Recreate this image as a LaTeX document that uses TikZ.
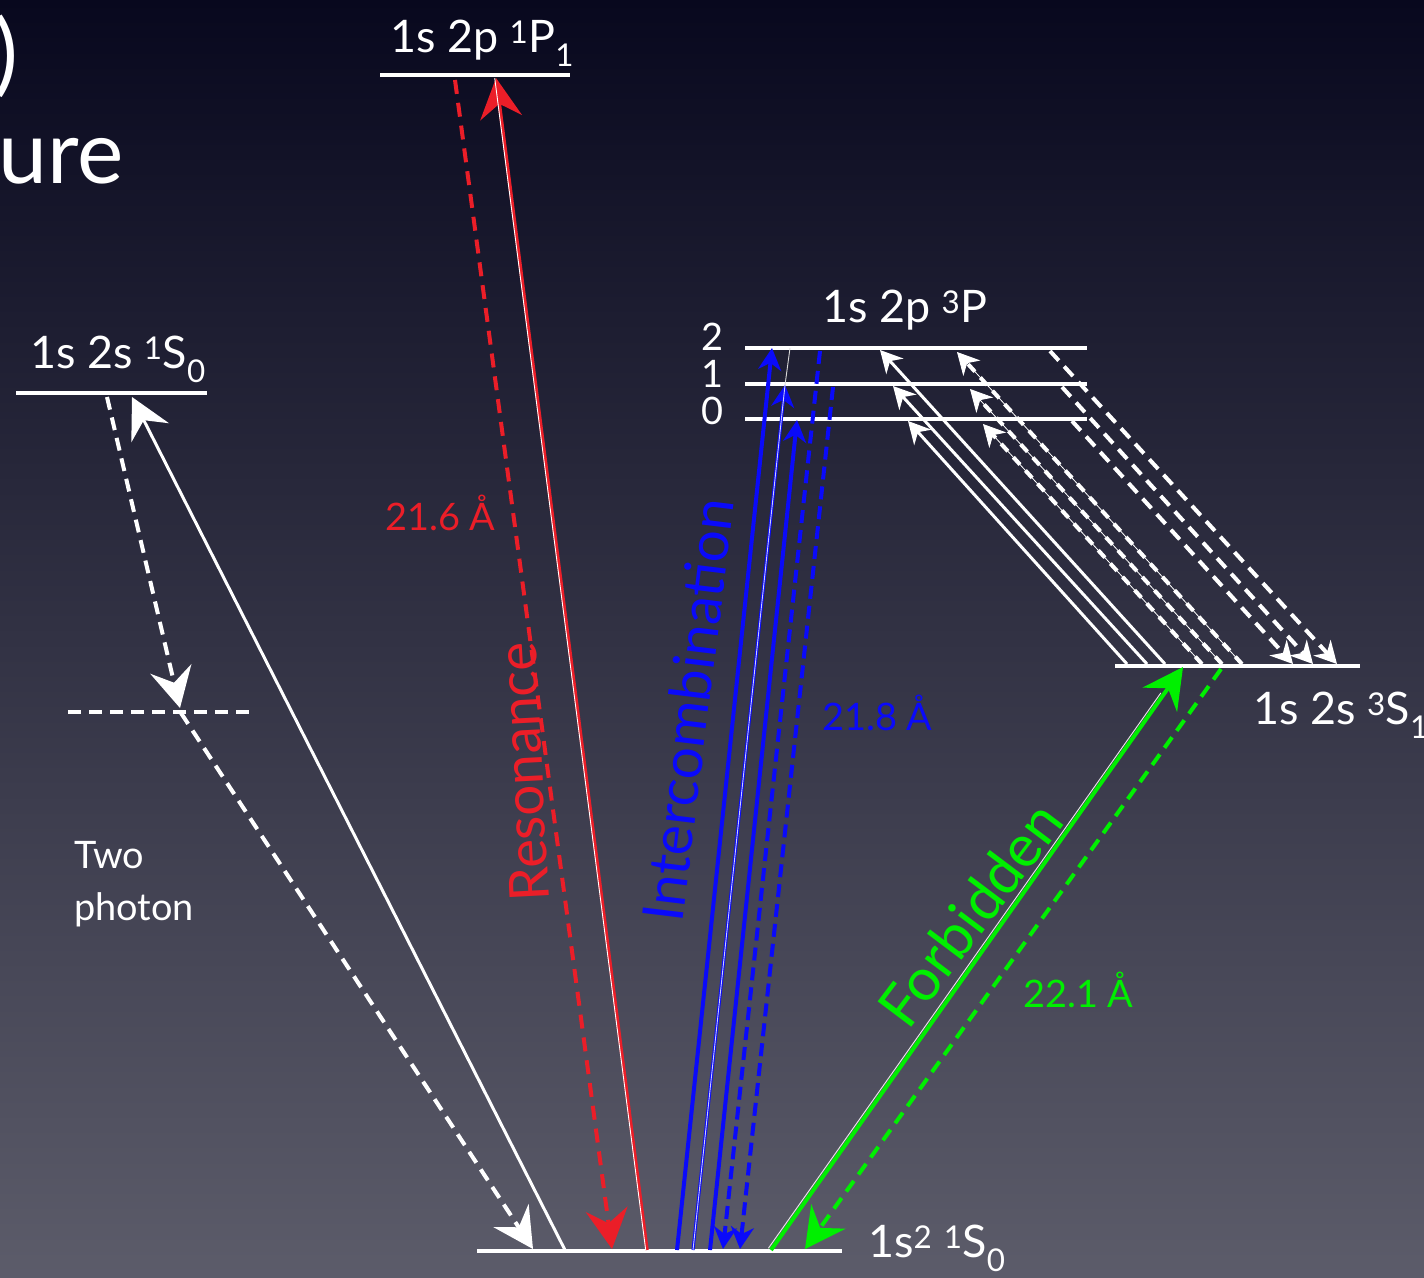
\documentclass[tikz,border=0pt]{standalone}
\usepackage{fontspec}
\setmainfont{Lato}
\usetikzlibrary{arrows.meta}
\definecolor{bgtop}{RGB}{8,8,30}
\definecolor{bgmid}{RGB}{38,38,60}
\definecolor{bgbot}{RGB}{92,92,106}
\definecolor{myred}{RGB}{235,30,40}
\definecolor{myblue}{RGB}{10,10,250}
\definecolor{mygreen}{RGB}{0,240,0}
\newcommand{\upn}[1]{\textsuperscript{#1}}
\newcommand{\dnn}[1]{\textsubscript{#1}}
\begin{document}
\begin{tikzpicture}[x=1bp,y=-1bp,
  level/.style={white,line width=4bp},
  vlevel/.style={white,line width=3.5bp,dash pattern=on 13bp off 8bp},
  lbl/.style={inner sep=0pt,anchor=base west,text=white,font=\fontsize{45}{54}\selectfont},
  jlbl/.style={inner sep=0pt,anchor=base east,text=white,font=\fontsize{38}{46}\selectfont},
  wavel/.style={inner sep=0pt,anchor=base west,font=\fontsize{38}{46}\selectfont},
  bigtip/.style={-{Stealth[length=40bp,width=42bp,inset=14bp]}},
  smalltip/.style={-{Stealth[length=22bp,width=23bp,inset=7bp]}},
  wsolid/.style={white,line width=3bp},
  wdash/.style={white,line width=4bp,dash pattern=on 13bp off 8bp},
  wthin/.style={white,line width=0.8bp},
]
\useasboundingbox (0,0) rectangle (1424,1277);
\shade[top color=bgtop,middle color=bgmid,bottom color=bgbot] (0,0) rectangle (1424,1277);

% title fragments
\node[inner sep=0pt,anchor=base west,text=white,font=\fontsize{90}{100}\selectfont] (t1) at (-6,84) {)};
\node[inner sep=0pt,anchor=base west,text=white,font=\fontsize{88}{100}\selectfont] (t2) at (-2,183) {ure};

% levels
\coordinate (P1a) at (380,75);   \coordinate (P1b) at (570,75);
\coordinate (S0a) at (16,393);   \coordinate (S0b) at (207,393);
\coordinate (Va) at (68,712);    \coordinate (Vb) at (255,712);
\coordinate (Ga) at (477,1251);  \coordinate (Gb) at (842,1251);
\coordinate (T2a) at (745,348);  \coordinate (T2b) at (1087,348);
\coordinate (T1a) at (745,384);  \coordinate (T1b) at (1087,384);
\coordinate (T0a) at (745,419);  \coordinate (T0b) at (1087,419);
\coordinate (S1a) at (1115,666); \coordinate (S1b) at (1360,666);
\draw[level] (P1a) -- (P1b);
\draw[level] (S0a) -- (S0b);
\draw[vlevel] (Va) -- (Vb);
\draw[level] (Ga) -- (Gb);
\draw[level] (T2a) -- (T2b);
\draw[level] (T1a) -- (T1b);
\draw[level] (T0a) -- (T0b);
\draw[level] (S1a) -- (S1b);

% labels
\node[lbl] (lP1) at (390,52) {1s 2p \upn{1}P\dnn{1}};
\node[lbl] (lS0) at (30,368) {1s 2s \upn{1}S\dnn{0}};
\node[lbl] (l3P) at (822,322) {1s 2p \upn{3}P};
\node[lbl] (l3S) at (1253,724) {1s 2s \upn{3}S\dnn{1}};
\node[lbl] (lG) at (868,1257) {1s\upn{2} \upn{1}S\dnn{0}};
\node[jlbl] (j2) at (724,350) {2};
\node[jlbl] (j1) at (724,387) {1};
\node[jlbl] (j0) at (724,424) {0};
\node[inner sep=0pt,anchor=base west,text=white,font=\fontsize{38}{46}\selectfont] (tp1) at (74,868) {Two};
\node[inner sep=0pt,anchor=base west,text=white,font=\fontsize{38}{46}\selectfont] (tp2) at (74,920) {photon};
\node[wavel,text=myred] (w1) at (385,530) {21.6 Å};
\node[wavel,text=myblue] (w2) at (822,730) {21.8 Å};
\node[wavel,text=mygreen] (w3) at (1023,1007) {22.1 Å};
\node[inner sep=0pt,text=myred,rotate=93,font=\fontsize{55}{60}\selectfont] (res) at (523,772) {Resonance};
\node[inner sep=0pt,text=myblue,rotate=83,font=\fontsize{57}{62}\selectfont] (int) at (688,710) {Intercombination};
\node[inner sep=0pt,text=mygreen,rotate=53,font=\fontsize{59}{64}\selectfont] (forb) at (970,914) {Forbidden};

% two photon and 1s2s 1S0
\coordinate (a1) at (107,397); \coordinate (a2) at (180,708);
\coordinate (a3) at (181,713); \coordinate (a4) at (533,1249);
\coordinate (b1) at (565,1250); \coordinate (b2) at (132,397);
\draw[wdash,bigtip] (a1) -- (a2);
\draw[wdash,bigtip] (a3) -- (a4);
\draw[wsolid,bigtip] (b1) -- (b2);

% resonance
\coordinate (r1) at (455,80); \coordinate (r2) at (612,1249);
\coordinate (r3) at (647,1250); \coordinate (r4) at (496,78);
\draw[myred,line width=4bp,dash pattern=on 14bp off 9bp,bigtip] (r1) -- (r2);
\draw[myred,line width=3.5bp,bigtip] (r3) -- (r4);
\draw[white,line width=0.9bp] ([xshift=-1.3bp]r3) -- ([xshift=-1.3bp]r4);

% intercombination
\coordinate (i1) at (677,1250); \coordinate (i2) at (772,348);
\coordinate (i3) at (693,1250); \coordinate (i4) at (785,385); \coordinate (i4b) at (790,348);
\coordinate (i5) at (710,1250); \coordinate (i6) at (797,420);
\coordinate (i7) at (820,351); \coordinate (i8) at (723,1249);
\coordinate (i9) at (833,387); \coordinate (i10) at (740,1249);
\draw[myblue,line width=4bp,smalltip] (i1) -- (i2);
\draw[myblue,line width=3bp,smalltip] (i3) -- (i4);
\draw[white!80!blue,line width=0.9bp] (i3) -- (i4);
\draw[white!70!gray,line width=0.9bp] (i4) -- (i4b);
\draw[myblue,line width=4bp,smalltip] (i5) -- (i6);
\draw[myblue,line width=4bp,dash pattern=on 13bp off 7bp,smalltip] (i7) -- (i8);
\draw[myblue,line width=4bp,dash pattern=on 13bp off 7bp,smalltip] (i9) -- (i10);

% forbidden
\coordinate (g1) at (771,1250); \coordinate (g2) at (1183,667);
\coordinate (g3) at (1221,669); \coordinate (g4) at (805,1249);
\draw[mygreen,line width=4bp,bigtip] (g1) -- (g2);
\draw[white!85!gray,line width=0.9bp,shorten >=34bp,transform canvas={xshift=-2.6bp,yshift=1.8bp}] (g1) -- (g2);
\draw[mygreen,line width=4bp,dash pattern=on 13bp off 8bp,bigtip] (g3) -- (g4);

% 3S1 <-> 3P
\coordinate (c1) at (1127,664); \coordinate (c2) at (908,421);
\coordinate (c3) at (1147,664); \coordinate (c4) at (893,386);
\coordinate (c5) at (1165,664); \coordinate (c6) at (880,350);
\draw[wsolid,smalltip] (c1) -- (c2);
\draw[wsolid,smalltip] (c3) -- (c4);
\draw[wsolid,smalltip] (c5) -- (c6);
\coordinate (d1) at (1202,664); \coordinate (d2) at (983,424);
\coordinate (d3) at (1222,664); \coordinate (d4) at (970,389);
\coordinate (d5) at (1242,664); \coordinate (d6) at (957,352);
\foreach \p/\q in {d1/d2,d3/d4,d5/d6}{
  \draw[wdash,dash pattern=on 10bp off 8bp,shorten >=15bp] (\p) -- (\q);
  \draw[wthin,smalltip] (\p) -- (\q);
}
\coordinate (e1) at (1050,351); \coordinate (e2) at (1337,664);
\coordinate (e3) at (1062,387); \coordinate (e4) at (1313,664);
\coordinate (e5) at (1072,421); \coordinate (e6) at (1293,664);
\draw[wdash,smalltip] (e1) -- (e2);
\draw[wdash,smalltip] (e3) -- (e4);
\draw[wdash,smalltip] (e5) -- (e6);
\end{tikzpicture}
\end{document}
